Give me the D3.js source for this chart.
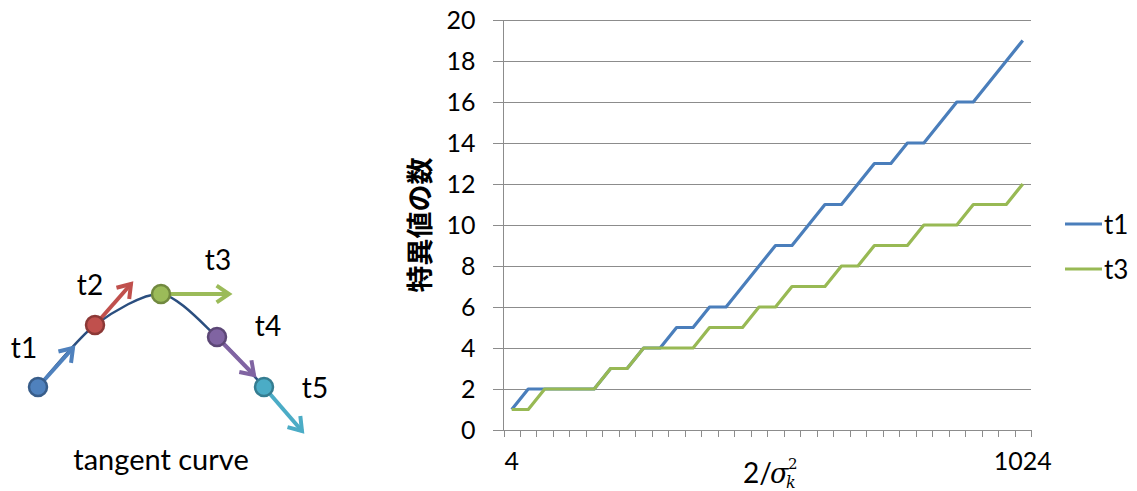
<!DOCTYPE html>
<html><head><meta charset="utf-8">
<script src="https://cdn.jsdelivr.net/npm/d3@7"></script>
<style>
html,body{margin:0;padding:0;background:#fff;}
svg{display:block;}
</style></head>
<body>
<svg id="c" width="1137" height="491"></svg>
<script>
// ---- data ----
const categories = d3.range(32);
const xTickLabels = ["4"].concat(d3.range(30).map(()=> "")).concat(["1024"]);
const t1Values = [1,2,2,2,2,2,3,3,4,4,5,5,6,6,7,8,9,9,10,11,11,12,13,13,14,14,15,16,16,17,18,19];
const t3Values = [1,1,2,2,2,2,3,3,4,4,4,4,5,5,5,6,6,7,7,7,8,8,9,9,9,10,10,10,11,11,11,12];
const yTicks = [0,2,4,6,8,10,12,14,16,18,20];
const seriesNames = ["t1","t3"];
// diagram (left illustration)
const diagramNames = ["t1","t2","t3","t4","t5"];
const diagramPts = [[38,387],[95,325],[161,294],[217,337],[264,387]];
const diagramTips = [[73,348],[131,284],[229,294],[254,375],[302,431]];
const diagramLabelPos = [[24,358],[90,295],[218,270],[268,336],[315,398]];

const fill = ["#4F81BD","#C0504D","#9BBB59","#8064A2","#4BACC6"];
const dark = ["#385D8A","#8C3836","#71893F","#5C4776","#357D91"];
const seriesColor = ["#4A7EBB","#98B954"];

const svg = d3.select("#c");
const font = "Lato, 'Noto Sans', sans-serif";

// ---- chart ----
const x = d3.scaleBand().domain(categories).range([503.5, 1031]);
const y = d3.scaleLinear().domain([0,20]).range([430, 20]);
const grid = "#8C8C8C";

svg.append("g").selectAll("line").data(yTicks).join("line")
  .attr("x1", 493).attr("x2", x.range()[1])
  .attr("y1", d=>Math.round(y(d))+0.5).attr("y2", d=>Math.round(y(d))+0.5)
  .attr("stroke", grid).attr("stroke-width",1);

svg.append("line").attr("x1",503.5).attr("x2",503.5).attr("y1",y(20)).attr("y2",y(0))
  .attr("stroke",grid);

const bounds = categories.map(c=>x(c)).concat([x.range()[1]]);
svg.append("g").selectAll("line").data(bounds).join("line")
  .attr("x1", d=>Math.round(d)+0.5).attr("x2", d=>Math.round(d)+0.5)
  .attr("y1", y(0)).attr("y2", y(0)+7).attr("stroke", grid);

const yAxis = d3.axisLeft(y).tickValues(yTicks).tickSize(0).tickPadding(28);
const ga = svg.append("g").attr("transform","translate(503.5,0)").call(yAxis);
ga.select(".domain").remove();
ga.selectAll("text").attr("font-family",font).attr("font-size",25).attr("fill","#000");

const xAxis = d3.axisBottom(x).tickSize(0).tickPadding(22).tickFormat((d,i)=>xTickLabels[i]);
const gx = svg.append("g").attr("transform","translate(0,430)").call(xAxis);
gx.select(".domain").remove();
gx.selectAll("text").attr("font-family",font).attr("font-size",25).attr("fill","#000");

// x title 2/σ_k^2 (one text element)
const serif = "'DejaVu Serif', serif";
const xt = svg.append("text").attr("fill","#000").attr("font-family",font).attr("font-size",28);
xt.append("tspan").attr("x",743).attr("y",483).text("2/");
xt.append("tspan").attr("x",770).attr("y",483).attr("font-size",27).attr("font-style","italic").attr("font-family",serif).text("σ");
xt.append("tspan").attr("x",788).attr("y",469).attr("font-size",15).attr("font-family",serif).text("2");
xt.append("tspan").attr("x",786).attr("y",488).attr("font-size",16).attr("font-style","italic").attr("font-family",serif).text("k");

// y title
svg.append("text").attr("transform","translate(430,225) rotate(-90)")
  .attr("text-anchor","middle").attr("font-family","'Noto Sans CJK JP', sans-serif")
  .attr("font-weight","bold").attr("font-size",27).attr("fill","#000").text("特異値の数");

// lines
const line = d3.line().x((d,i)=>x(i)+x.bandwidth()/2).y(d=>y(d));
[t1Values, t3Values].forEach((vals,k)=>{
  svg.append("path").attr("d", line(vals)).attr("fill","none")
    .attr("stroke", seriesColor[k]).attr("stroke-width",3.2).attr("stroke-linejoin","round");
});

// legend
const legY = [224, 269];
seriesNames.forEach((n,k)=>{
  svg.append("line").attr("x1",1065).attr("x2",1102).attr("y1",legY[k]).attr("y2",legY[k])
    .attr("stroke",seriesColor[k]).attr("stroke-width",3.2);
  svg.append("text").attr("x",1104).attr("y",legY[k]+10).attr("font-family",font)
    .attr("font-size",26).attr("fill","#000").text(n);
});

// ---- left diagram ----
svg.append("path").attr("d", d3.line().curve(d3.curveCardinal.tension(0.2))(diagramPts))
  .attr("fill","none").attr("stroke","#2A4E7F").attr("stroke-width",2.5);

diagramPts.forEach((p,i)=>{
  const t = diagramTips[i];
  const ang = Math.atan2(t[1]-p[1], t[0]-p[0]);
  const g = svg.append("g");
  g.append("line").attr("x1",p[0]).attr("y1",p[1]).attr("x2",t[0]).attr("y2",t[1])
    .attr("stroke",fill[i]).attr("stroke-width",4);
  const L = 15, a = 0.6;
  const pts = [
    [t[0]-L*Math.cos(ang-a), t[1]-L*Math.sin(ang-a)],
    [t[0], t[1]],
    [t[0]-L*Math.cos(ang+a), t[1]-L*Math.sin(ang+a)]
  ];
  g.append("path").attr("d", d3.line()(pts)).attr("fill","none")
    .attr("stroke",fill[i]).attr("stroke-width",4).attr("stroke-linejoin","miter");
});
diagramPts.forEach((p,i)=>{
  svg.append("circle").attr("cx",p[0]).attr("cy",p[1]).attr("r",9)
    .attr("fill",fill[i]).attr("stroke",dark[i]).attr("stroke-width",2.5);
});
diagramNames.forEach((n,i)=>{
  svg.append("text").attr("x",diagramLabelPos[i][0]).attr("y",diagramLabelPos[i][1])
    .attr("text-anchor","middle").attr("font-family",font).attr("font-size",28)
    .attr("fill","#000").text(n);
});
svg.append("text").attr("x",161).attr("y",470).attr("text-anchor","middle")
  .attr("font-family",font).attr("font-size",29).attr("fill","#000").text("tangent curve");
</script>
</body></html>
